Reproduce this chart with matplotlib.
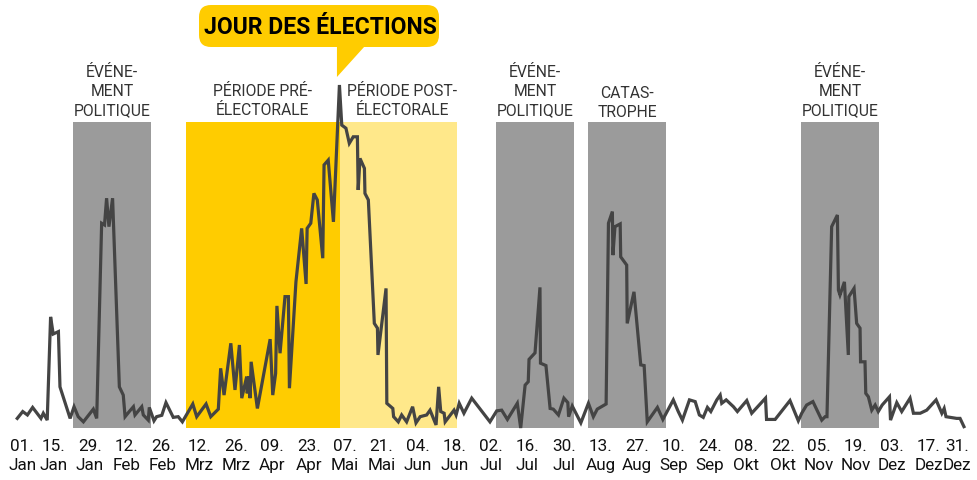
import matplotlib
matplotlib.use("Agg")
import matplotlib.pyplot as plt
from matplotlib.patches import FancyBboxPatch, Polygon
import matplotlib.transforms as mtransforms

# ---------------- data ----------------
days = [0.1, 2.2, 4.0, 6.0, 8.2, 9.2, 10.1, 11.6, 12.9, 13.9, 15.9, 16.5, 20.4, 21.9, 23.5, 25.5,
        29.3, 30.6, 32.5, 33.6, 34.4, 35.3, 36.7, 39.3, 40.8, 41.5, 43.1, 44.7, 45.3, 47.9, 48.5,
        50.4, 50.8, 52.6, 53.6, 55.6, 57.2, 60.0, 61.9, 63.5, 67.5, 69.0, 72.6, 74.4, 77.3, 78.2,
        79.5, 82.1, 83.7, 85.4, 86.3, 88.2, 88.4, 89.1, 89.5, 89.9, 92.3, 97.2, 98.2, 99.3, 99.8,
        101.0, 102.9, 104.2, 104.6, 107.1, 109.3, 111.0, 111.4, 112.8, 114.0, 115.3, 117.4, 117.9,
        119.5, 121.5, 123.8, 124.7, 126.3, 127.6, 129.1, 130.7, 131.0, 131.7, 133.4, 133.6, 134.9,
        137.2, 138.4, 138.6, 141.7, 142.0, 144.3, 144.6, 146.4, 147.7, 149.6, 151.9, 153.2, 154.8,
        157.3, 158.6, 160.9, 161.9, 162.7, 164.0, 164.4, 166.9, 167.8, 168.6, 169.8, 171.6, 174.6,
        181.6, 184.2, 186.1, 188.3, 192.1, 193.4, 195.1, 196.3, 196.6, 198.9, 200.8, 201.0, 203.1,
        204.7, 205.9, 207.9, 210.0, 211.5, 211.8, 213.2, 216.5, 219.4, 221.3, 222.8, 226.2, 227.1,
        228.6, 228.8, 229.6, 231.6, 231.8, 234.1, 234.3, 236.9, 239.5, 240.8, 242.0, 245.9, 248.0,
        252.0, 253.9, 255.5, 258.2, 260.4, 262.0, 263.5, 265.1, 266.4, 268.7, 270.0, 270.6, 272.3,
        275.1, 276.6, 277.6, 280.2, 282.1, 287.4, 287.8, 291.1, 296.8, 300.0, 301.3, 303.2, 305.6,
        309.0, 310.3, 311.0, 312.8, 315.0, 315.4, 316.0, 317.7, 319.2, 319.4, 321.4, 322.4, 323.7,
        323.9, 325.6, 325.9, 326.9, 328.2, 329.5, 330.7, 332.2, 335.0, 335.4, 337.8, 339.7, 342.9,
        344.2, 346.8, 349.3, 352.9, 355.1, 356.0, 356.7, 358.3, 360.8, 362.1, 363.6]
values = [2.8, 4.8, 3.8, 6.0, 3.8, 2.8, 4.3, 2.3, 32.4, 27.4, 28.1, 12.0, 2.8, 6.2, 3.3, 1.8,
          5.5, 2.8, 59.7, 59.2, 67.0, 58.7, 67.0, 12.0, 9.6, 3.3, 4.8, 6.2, 3.8, 6.2, 3.8,
          2.3, 6.0, 2.1, 3.3, 3.7, 7.4, 3.1, 3.3, 1.8, 7.0, 3.3, 7.0, 3.3, 5.5, 17.4,
          9.6, 24.7, 11.1, 24.2, 8.7, 15.0, 10.1, 15.0, 8.7, 19.3, 5.7, 25.9, 9.6, 15.9, 35.6,
          21.8, 38.3, 38.3, 11.6, 42.6, 58.2, 42.0, 58.2, 59.7, 68.4, 66.5, 49.5, 76.7,
          78.1, 60.1, 100.0, 88.3, 87.4, 83.0, 84.9, 84.9, 69.4, 78.6, 75.7, 68.4, 66.5,
          30.5, 29.1, 21.3, 40.7, 7.2, 5.7, 3.3, 1.8, 3.8, 1.8, 6.2, 1.5, 3.3,
          3.8, 5.2, 0.9, 12.0, 4.8, 4.3, 1.8, 4.3, 5.2, 3.8, 7.2, 4.3, 8.7,
          1.8, 5.0, 5.2, 2.5, 7.2, 0.0, 12.5, 13.5, 20.0, 21.9, 41.0, 18.9, 18.2,
          5.7, 5.5, 3.8, 8.7, 7.4, 3.3, 6.4, 1.5, 7.2, 3.3, 5.5, 7.0, 59.7,
          63.1, 50.4, 58.7, 59.5, 49.9, 47.5, 30.5, 39.7, 18.4, 18.2, 1.8, 6.0, 2.5,
          8.2, 4.8, 2.3, 8.2, 7.7, 3.8, 3.1, 6.0, 4.8, 8.2, 9.6, 7.2, 8.2,
          6.2, 4.8, 5.7, 8.0, 4.3, 8.7, 2.5, 2.5, 8.0, 2.1, 4.3, 6.7, 7.7,
          2.3, 3.3, 3.3, 58.7, 62.1, 40.2, 38.8, 42.6, 21.3, 38.3, 40.7, 30.5, 29.1,
          19.3, 19.3, 10.1, 9.1, 5.2, 6.7, 4.8, 6.7, 9.1, 2.3, 7.4, 4.8, 8.7,
          4.3, 4.3, 5.2, 8.2, 4.3, 5.7, 3.3, 3.1, 2.8, 2.8, 0.4]

tick_days = [0, 14, 28, 42, 56, 70, 84, 98, 112, 126, 140, 154, 168, 182, 196, 210, 224,
             238, 252, 266, 280, 294, 308, 322, 336, 350, 364]
tick_labels = ["01.\nJan", "15.\nJan", "29.\nJan", "12.\nFeb", "26.\nFeb", "12.\nMrz", "26.\nMrz",
               "09.\nApr", "23.\nApr", "07.\nMai", "21.\nMai", "04.\nJun", "18.\nJun", "02.\nJul",
               "16.\nJul", "30.\nJul", "13.\nAug", "27.\nAug", "10.\nSep", "24.\nSep", "08.\nOkt",
               "22.\nOkt", "05.\nNov", "19.\nNov", "03.\nDez", "17.\nDez", "31.\nDez"]

# periods
event_starts = [21.5, 183.9, 219.3, 301.1]
event_ends = [51.5, 213.9, 249.2, 331.0]
event_labels = ["ÉVÉNE-\nMENT\nPOLITIQUE", "ÉVÉNE-\nMENT\nPOLITIQUE", "CATAS-\nTROPHE",
                "ÉVÉNE-\nMENT\nPOLITIQUE"]
pre_period = (64.9, 124.0)
post_period = (124.0, 169.0)
election_day = 124.0
band_top = 89.2

GRAY = "#9B9B9B"
YELLOW = "#FFCC00"
LIGHT_YELLOW = "#FFE88A"
LINE = "#444444"
TEXT = "#333333"
FONT = ["Roboto", "DejaVu Sans"]

plt.rcParams["font.family"] = FONT

W, H = 977, 480
fig = plt.figure(figsize=(W / 100, H / 100), dpi=100)
ax = fig.add_axes([17 / W, 1 - 428 / H, 948 / W, (428 - 85) / H])
ax.set_xlim(0, 364)
ax.set_ylim(0, 100)
for s in ax.spines.values():
    s.set_visible(False)
ax.set_yticks([])

# bands
for s0, s1 in zip(event_starts, event_ends):
    ax.fill_between([s0, s1], 0, band_top, color=GRAY, lw=0, zorder=1)
ax.fill_between(list(pre_period), 0, band_top, color=YELLOW, lw=0, zorder=1)
ax.fill_between(list(post_period), 0, band_top, color=LIGHT_YELLOW, lw=0, zorder=1)

# line
ax.plot(days, values, color=LINE, lw=2.3, solid_joinstyle="miter", zorder=3, clip_on=False)

# band labels
lab_kw = dict(ha="center", va="bottom", color=TEXT, fontsize=11.3, linespacing=1.32,
              clip_on=False, zorder=4)
for s0, s1, lab in zip(event_starts, event_ends, event_labels):
    yb = 89.8 if lab.startswith("CATAS") else 90.4
    ax.text((s0 + s1) / 2, yb, lab, **lab_kw)
ax.text(sum(pre_period) / 2, 90.4, "PÉRIODE PRÉ-\nÉLECTORALE", **lab_kw)
ax.text(sum(post_period) / 2 + 1.5, 90.4, "PÉRIODE POST-\nÉLECTORALE", **lab_kw)

# x ticks (first/last labels pulled inward like the reference)
labels_pos = list(tick_days)
labels_pos[0] = 2
labels_pos[-1] = 361
ax.set_xticks(labels_pos)
ax.set_xticklabels(tick_labels, fontsize=12.3, color="#111111", linespacing=1.35)
ax.tick_params(axis="x", length=0, pad=8)

# callout "JOUR DES ÉLECTIONS" (pixel coordinates from top-left)
px = mtransforms.Affine2D().scale(1, -1).translate(0, H).scale(1 / 100) + fig.dpi_scale_trans
box = FancyBboxPatch((199 + 12, 5 + 12), 240 - 24, 42 - 24,
                     boxstyle="round,pad=12", fc=YELLOW, ec="none", transform=px)
fig.patches.append(box)
tip_x = ax.transData.transform((election_day, 0))[0] - 3
tri = Polygon([(tip_x, 46), (tip_x + 28, 46), (tip_x, 77)], closed=True, fc=YELLOW, ec="none",
              transform=px)
fig.patches.append(tri)
fig.text(320 / W, 1 - 27 / H, "JOUR DES ÉLECTIONS", ha="center", va="center",
         fontsize=16.6, fontweight="bold", color="#000000", family=FONT)

fig.savefig("out.png", dpi=100)
